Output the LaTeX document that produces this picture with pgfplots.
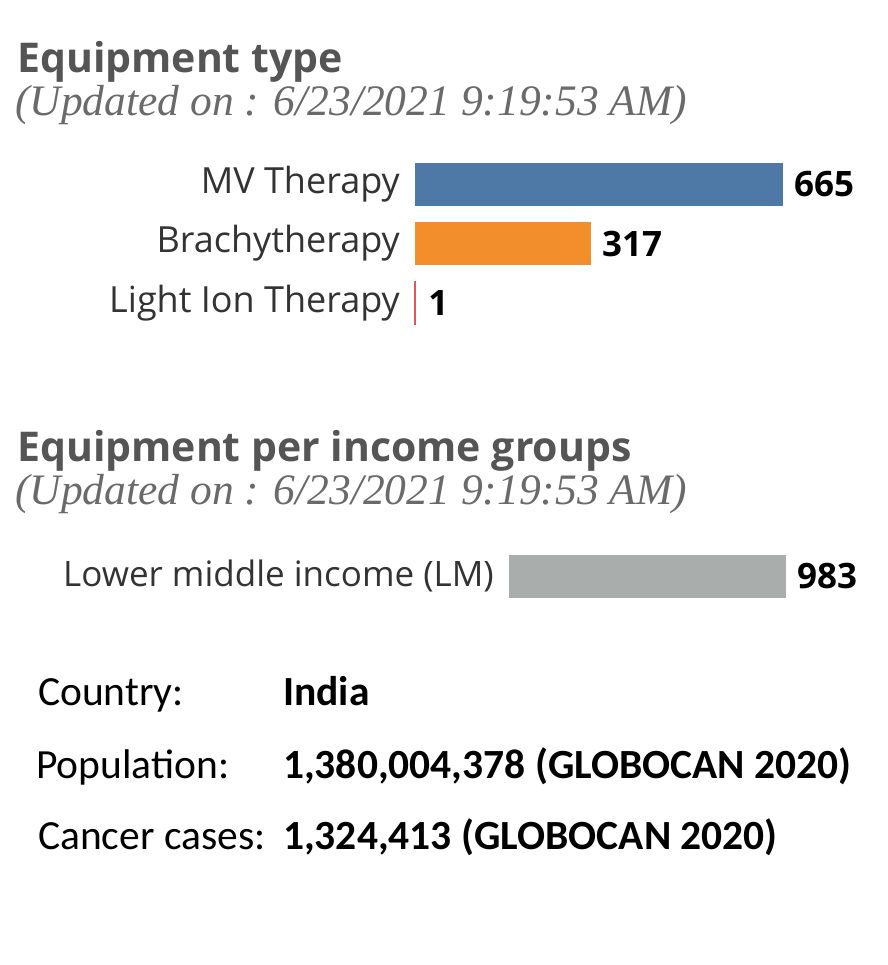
\documentclass[border=0pt]{standalone}
\usepackage{pgfplots}
\pgfplotsset{compat=1.18}
\usepackage{fontspec}
\setmainfont{Open Sans}
\newfontfamily\calfont{Carlito}
\newfontfamily\serfont{Liberation Serif}
\definecolor{cblue}{HTML}{4E79A7}
\definecolor{corange}{HTML}{F28E2B}
\definecolor{cred}{HTML}{E15759}
\definecolor{cgray}{HTML}{A9AEAD}
\definecolor{ttl}{HTML}{555555}
\definecolor{sub}{HTML}{6A6A6A}
\definecolor{lbl}{HTML}{333333}
\newcommand\valfont{\fontsize{35bp}{38bp}\selectfont\bfseries}
\begin{document}
\begin{tikzpicture}[x=1bp,y=1bp]
\fill[white] (0,0) rectangle (888,-965);
% titles
\node[anchor=base west,inner sep=0pt,text=ttl] at (17,-72) {\fontsize{41bp}{44bp}\selectfont\bfseries Equipment type};
\node[anchor=base west,inner sep=0pt,text=sub] at (15,-115) {\serfont\itshape\fontsize{43.5bp}{46bp}\selectfont (Updated on : 6/23/2021 9:19:53 AM)};
\node[anchor=base west,inner sep=0pt,text=ttl] at (17,-461) {\fontsize{41bp}{44bp}\selectfont\bfseries Equipment per income groups};
\node[anchor=base west,inner sep=0pt,text=sub] at (15,-504) {\serfont\itshape\fontsize{43.5bp}{46bp}\selectfont (Updated on : 6/23/2021 9:19:53 AM)};
% chart 1
\begin{axis}[
  at={(415bp,-154.25bp)}, anchor=north west,
  scale only axis, width=367bp, height=178.5bp,
  xbar, xmin=0, xmax=665, ymin=-0.5, ymax=2.5, y dir=reverse,
  bar width=42bp, bar shift=0pt,
  hide x axis,
  axis y line*=left, y axis line style={draw=none},
  major tick length=0pt,
  ytick={0,1,2}, yticklabels={MV Therapy,Brachytherapy,Light Ion Therapy},
  yticklabel style={font=\fontsize{36bp}{39bp}\selectfont, text=lbl, inner sep=0pt, xshift=-15bp},
  nodes near coords={\valfont\pgfmathprintnumber[assume math mode=true]{\pgfplotspointmeta}},
  nodes near coords align={horizontal},
  every node near coord/.append style={text=black, anchor=west, inner sep=0pt, xshift=12bp},
  clip=false,
]
\addplot[fill=cblue, draw=cblue] coordinates {(665,0)};
\addplot[fill=corange, draw=corange] coordinates {(317,1)};
\addplot[fill=cred, draw=cred, line width=1.5bp] coordinates {(1,2)};
\end{axis}
% chart 2
\begin{axis}[
  at={(509bp,-546bp)}, anchor=north west,
  scale only axis, width=276bp, height=60bp,
  xbar, xmin=0, xmax=983, ymin=-0.5, ymax=0.5, y dir=reverse,
  bar width=42bp, bar shift=0pt,
  hide x axis,
  axis y line*=left, y axis line style={draw=none},
  major tick length=0pt,
  ytick={0}, yticklabels={Lower middle income (LM)},
  yticklabel style={font=\fontsize{35bp}{38bp}\selectfont, text=lbl, inner sep=0pt, xshift=-15bp},
  nodes near coords={\valfont\pgfmathprintnumber[assume math mode=true]{\pgfplotspointmeta}},
  nodes near coords align={horizontal},
  every node near coord/.append style={text=black, anchor=west, inner sep=0pt, xshift=12bp},
  clip=false,
]
\addplot[fill=cgray, draw=cgray] coordinates {(983,0)};
\end{axis}
% bottom text
\begin{scope}[every node/.style={anchor=base west,inner sep=0pt}]
\node at (38,-705) {\calfont\fontsize{41.5bp}{44bp}\selectfont Country:};
\node at (283,-705) {\calfont\fontsize{41.5bp}{44bp}\selectfont\bfseries India};
\node at (36,-778) {\calfont\fontsize{41.5bp}{44bp}\selectfont Population:};
\node at (283,-778) {\calfont\fontsize{41.5bp}{44bp}\selectfont\bfseries 1,380,004,378 (GLOBOCAN 2020)};
\node at (38,-849) {\calfont\fontsize{41.5bp}{44bp}\selectfont Cancer cases:};
\node at (283,-849) {\calfont\fontsize{41.5bp}{44bp}\selectfont\bfseries 1,324,413 (GLOBOCAN 2020)};
\end{scope}
\end{tikzpicture}
\end{document}
